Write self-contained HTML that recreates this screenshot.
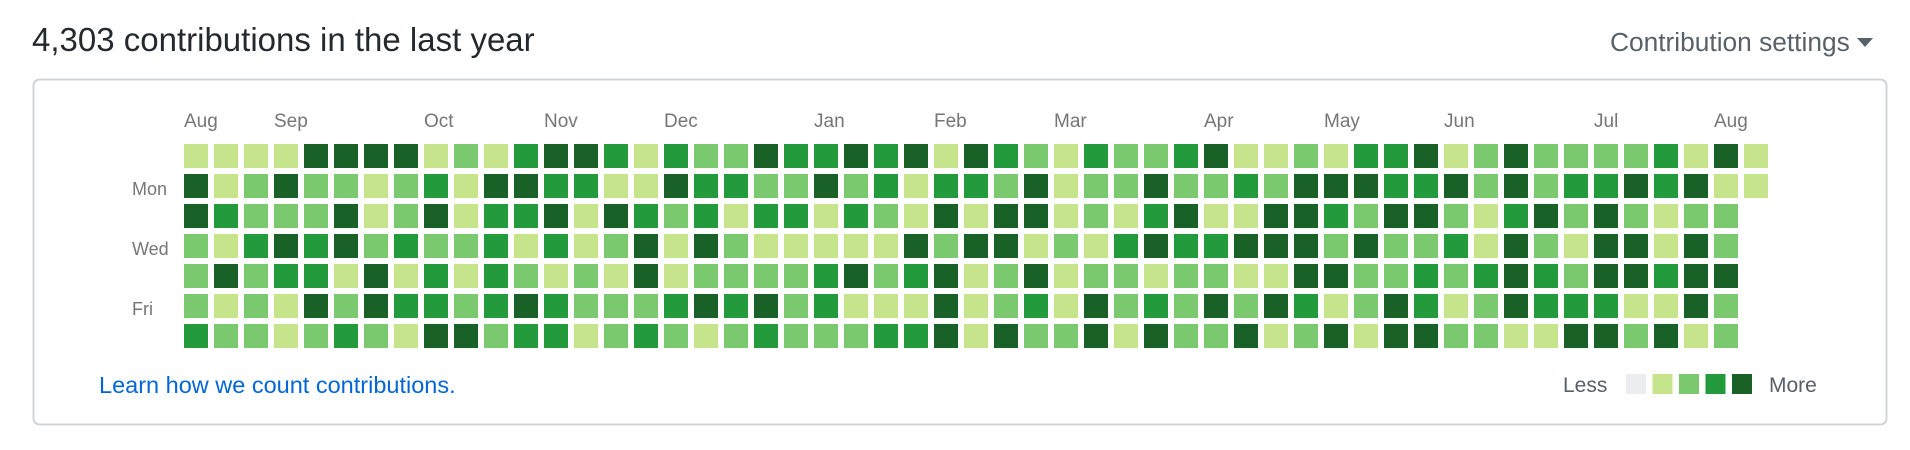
<!DOCTYPE html>
<html><head><meta charset="utf-8"><style>
body{margin:0;width:1910px;height:450px;background:#fff;overflow:hidden;font-family:"Liberation Sans",sans-serif;}
svg{position:absolute;left:0;top:0}
</style></head><body>
<svg width="1910" height="450" id="g">
<text x="32" y="51" font-size="33" fill="#24292e">4,303 contributions in the last year</text>
<g>
<text x="1610" y="51" font-size="26.3" fill="#586069">Contribution settings</text>
<path d="M1857 38 L1873 38 L1865 47 Z" fill="#586069"/>
</g>
<rect x="33.5" y="79.5" width="1853" height="345" rx="6" fill="none" stroke="#d1d5da" stroke-width="2"/>
<text x="132" y="195" font-size="18" fill="#767676">Mon</text>
<text x="132" y="255" font-size="18" fill="#767676">Wed</text>
<text x="132" y="315" font-size="18" fill="#767676">Fri</text>
<g id="months"></g><g id="cells"></g>
<text x="99" y="393" font-size="23.5" fill="#0366d6">Learn how we count contributions.</text>
<text x="1563" y="392" font-size="21" fill="#586069">Less</text>
<g id="legend"></g>
<text x="1769" y="392" font-size="21" fill="#586069">More</text>
</svg>
<script>
const monthNames=["Aug","Sep","Oct","Nov","Dec","Jan","Feb","Mar","Apr","May","Jun","Jul","Aug"];
const monthWeeks=[0,3,8,12,16,21,25,29,34,38,42,47,51];
const row0=[1,1,1,1,4,4,4,4,1,2,1,3,4,4,3,1,3,2,2,4,3,3,4,3,4,1,4,3,2,1,3,2,2,3,4,1,1,2,1,3,3,4,1,2,4,2,2,2,2,3,1,4,1];
const row1=[4,1,2,4,2,2,1,2,3,1,4,4,3,3,1,1,4,3,3,2,2,4,2,3,1,3,3,2,4,1,2,2,4,2,2,3,2,4,4,4,3,3,4,2,4,2,3,3,4,3,4,1,1];
const row2=[4,3,2,2,2,4,1,2,4,1,3,3,4,1,4,3,2,3,1,3,3,1,3,2,1,4,1,4,4,1,2,1,3,4,1,1,4,4,3,2,4,4,2,1,3,4,2,4,2,1,2,2];
const row3=[2,1,3,4,3,4,2,3,2,2,3,1,3,1,2,4,1,4,2,1,1,1,1,1,4,2,4,4,1,2,1,3,4,3,3,4,4,4,2,4,2,2,3,1,4,2,1,4,4,1,4,2];
const row4=[2,4,2,3,3,1,4,1,3,1,3,2,1,2,1,4,1,2,2,2,2,3,4,2,3,4,1,2,4,1,2,2,1,2,2,1,1,4,4,2,2,3,2,3,4,3,2,4,4,3,4,4];
const row5=[2,1,2,1,4,2,4,3,3,2,3,4,3,2,2,2,3,4,3,4,2,3,1,1,1,4,1,2,3,1,4,2,3,2,4,2,4,3,1,2,4,3,1,2,4,3,3,3,1,1,4,2];
const row6=[3,2,2,1,2,3,2,1,4,4,2,3,3,1,2,3,2,1,2,3,2,2,2,3,3,4,1,4,2,2,4,1,4,2,2,4,1,2,4,1,4,4,2,2,1,1,4,4,2,4,1,2];
const legendLevels=[0,1,2,3,4];
const colors=["#ebedf0","#c6e48b","#7bc96f","#239a3b","#196127"];
const rows=[row0,row1,row2,row3,row4,row5,row6];
const NS="http://www.w3.org/2000/svg";
const xw=w=>184+w*30, yd=d=>144+d*30;
const cg=document.getElementById('cells');
rows.forEach((r,d)=>r.forEach((v,w)=>{
 const c=document.createElementNS(NS,'rect');
 c.setAttribute('x',xw(w));c.setAttribute('y',yd(d));c.setAttribute('width',24);c.setAttribute('height',24);
 c.setAttribute('fill',colors[v]);
 
 
 cg.appendChild(c);
}));
const mg=document.getElementById('months');
monthNames.forEach((m,i)=>{
 const t=document.createElementNS(NS,'text');
 t.setAttribute('x',xw(monthWeeks[i]));t.setAttribute('y',127);t.setAttribute('font-size',19);t.setAttribute('fill','#767676');
 t.textContent=m;
 
 
 mg.appendChild(t);
});
const lg=document.getElementById('legend');
legendLevels.forEach((v,i)=>{
 const c=document.createElementNS(NS,'rect');
 c.setAttribute('x',1626+i*26.5);c.setAttribute('y',374);c.setAttribute('width',20);c.setAttribute('height',20);
 c.setAttribute('fill',colors[v]);
 
 
 lg.appendChild(c);
});
</script>
</body></html>
